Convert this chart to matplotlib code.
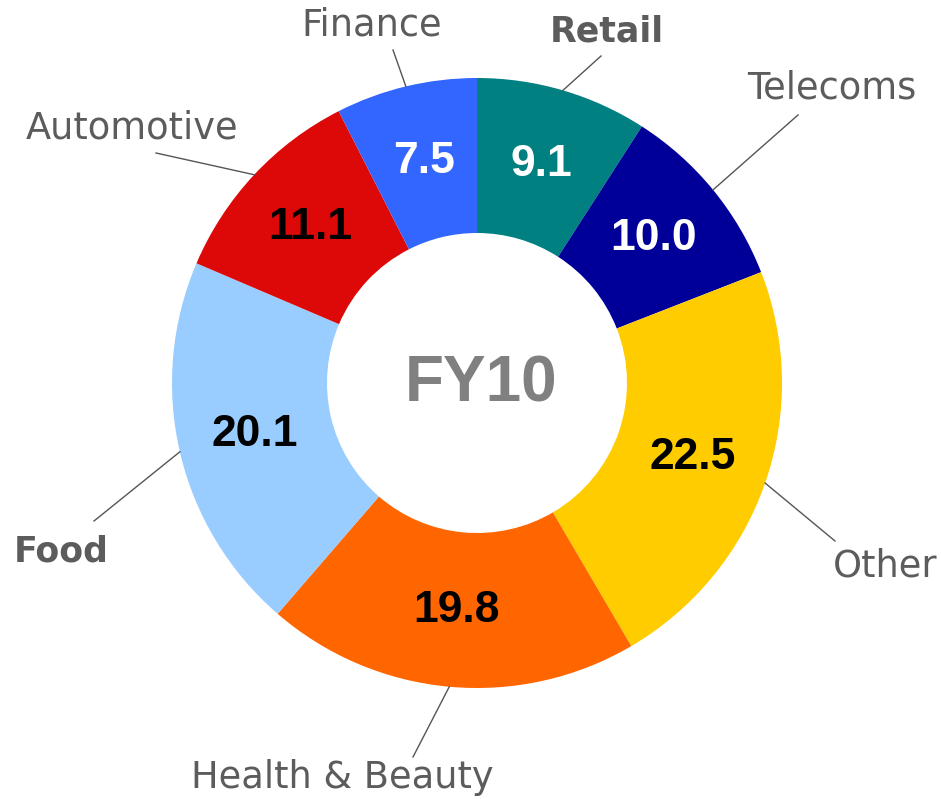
import numpy as np
import matplotlib.pyplot as plt

# FY10 share by sector, clockwise from 12 o'clock
sectors = ["Retail", "Telecoms", "Other", "Health & Beauty", "Food", "Automotive", "Finance"]
shares = [9.1, 10.0, 22.5, 19.8, 20.1, 11.1, 7.5]
colors = ["#008080", "#000099", "#FFCC00", "#FF6600", "#99CCFF", "#DD0808", "#3366FF"]
value_colors = ["white", "white", "black", "black", "black", "black", "white"]
bold_labels = ["Retail", "Food"]

# label placement in pixel coords (x, y from top): text centre, end of leader line
label_pos = {
    "Retail": ((607, 32), (601, 56)),
    "Telecoms": ((832, 88), (798, 115)),
    "Other": ((885, 566), (835, 541)),
    "Health & Beauty": ((342, 777), (413, 757)),
    "Food": ((61, 551), (94, 521)),
    "Automotive": ((132, 128), (156, 153)),
    "Finance": ((372, 25), (393, 50)),
}

W, H = 941, 799
cx, cy = 477, H - 383
r_out, r_in = 305, 150

fig = plt.figure(figsize=(W / 100, H / 100), dpi=100)
ax = fig.add_axes([0, 0, 1, 1])

ax.pie(shares, colors=colors, startangle=90, counterclock=False,
       radius=r_out, center=(cx, cy),
       wedgeprops=dict(width=r_out - r_in, linewidth=0))

ax.set_xlim(0, W)
ax.set_ylim(0, H)
ax.set_aspect("auto")
ax.axis("off")

total = sum(shares)
start = 0.0
for name, v, vc in zip(sectors, shares, value_colors):
    mid = np.deg2rad(90 - 360 * (start + v / 2) / total)
    start += v
    # value inside the ring
    ax.text(cx + 228 * np.cos(mid), cy + 228 * np.sin(mid), "%.1f" % v,
            ha="center", va="center", fontsize=32, fontweight="bold",
            color=vc, family="Liberation Sans")
    # category label + leader line
    (tx, ty), (lx, ly) = label_pos[name]
    ax.plot([cx + r_out * np.cos(mid), lx], [cy + r_out * np.sin(mid), H - ly],
            color="#555555", lw=1)
    ax.text(tx, H - ty, name, ha="center", va="center",
            fontsize=25 if name in bold_labels else 26.5,
            fontweight="bold" if name in bold_labels else "normal",
            color="#5c5c5c", family="DejaVu Sans")

ax.text(cx + 4, cy - 2, "FY10", ha="center", va="center", fontsize=46,
        fontweight="bold", color="#808080", family="Liberation Sans")

fig.savefig("out.png", dpi=100)
